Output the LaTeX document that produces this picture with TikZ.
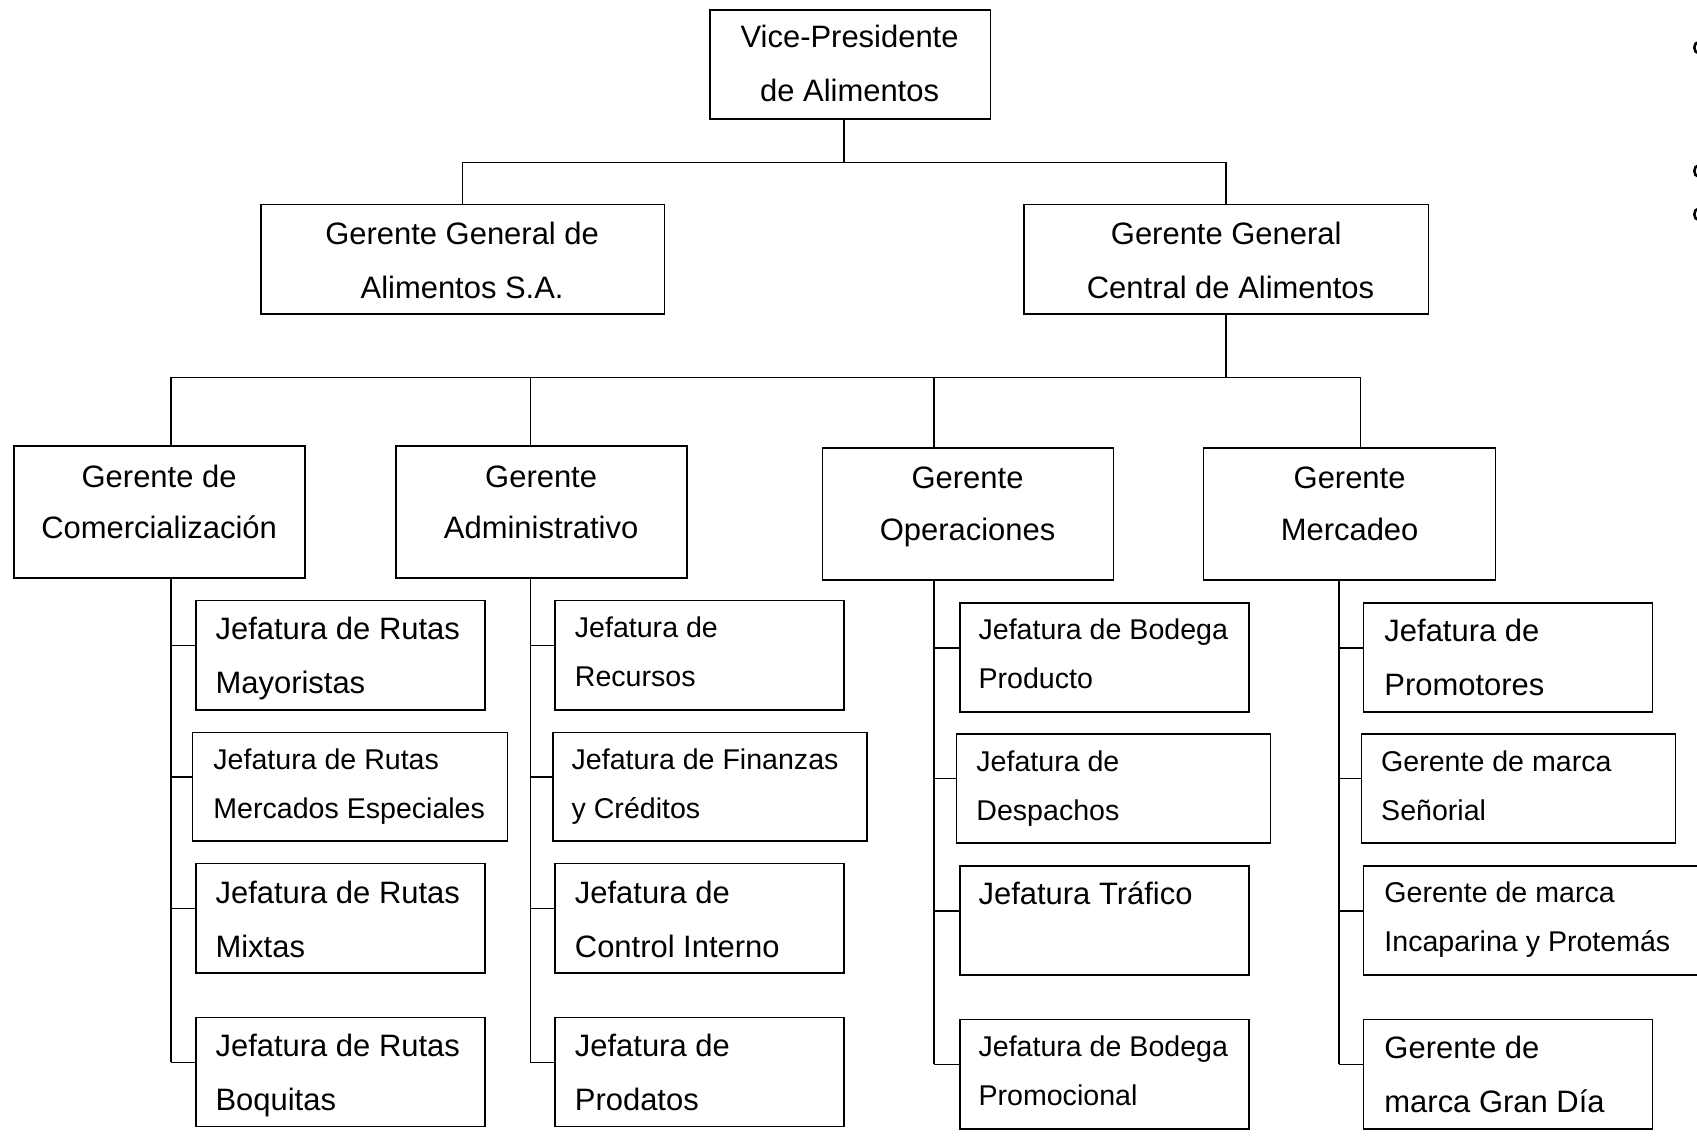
\documentclass[tikz,border=0pt]{standalone}
\usepackage{fontspec}
\setmainfont{Liberation Sans}
\usetikzlibrary{fit}
\tikzset{
  orgbox/.style={draw,line width=1.4pt,inner sep=0pt,fit={#1}},
  bigtxt/.style={font=\fontsize{28.6}{34}\selectfont,inner sep=0pt,anchor=base west},
  smalltxt/.style={font=\fontsize{26.4}{32}\selectfont,inner sep=0pt,anchor=base west},
  ctxt/.style={font=\fontsize{28.6}{34}\selectfont,inner sep=0pt,anchor=base},
  edgemark/.style={line width=2.4pt},
  link/.style={line width=1.4pt},
}
\begin{document}
\begin{tikzpicture}[x=1pt,y=-1pt]
\path[use as bounding box] (0,0) rectangle (1568,1050);
\clip (0,0) rectangle (1568,1050);

% top levels
\node[orgbox={(656,9)(915,110)}] (vp) {};
\node[ctxt] (vp1) at (785,44) {Vice-Presidente};
\node[ctxt] (vp2) at (785,94) {de Alimentos};

\node[orgbox={(241,189)(614,290)}] (gsa) {};
\node[ctxt] (gsa1) at (427,226) {Gerente General de};
\node[ctxt] (gsa2) at (427,276) {Alimentos S.A.};

\node[orgbox={(946,189)(1320,290)}] (gc) {};
\node[ctxt] (gc1) at (1133,226) {Gerente General};
\node[ctxt] (gc2) at (1137,276) {Central de Alimentos};

% level 3
\node[orgbox={(13,412)(282,534)}] (gcom) {};
\node[ctxt] (gcom1) at (147,450) {Gerente de};
\node[ctxt] (gcom2) at (147,498) {Comercialización};

\node[orgbox={(366,412)(635,534)}] (gadm) {};
\node[ctxt] (gadm1) at (500,450) {Gerente};
\node[ctxt] (gadm2) at (500,498) {Administrativo};

\node[orgbox={(760,414)(1029,536)}] (gope) {};
\node[ctxt] (gope1) at (894,451) {Gerente};
\node[ctxt] (gope2) at (894,499) {Operaciones};

\node[orgbox={(1112,414)(1382,536)}] (gmer) {};
\node[ctxt] (gmer1) at (1247,451) {Gerente};
\node[ctxt] (gmer2) at (1247,499) {Mercadeo};

% column 1
\node[orgbox={(181,555)(448,656)}] (c1a) {};
\node[bigtxt] (c1a1) at (199,591) {Jefatura de Rutas};
\node[bigtxt] (c1a2) at (199,641) {Mayoristas};
\node[orgbox={(178,677)(469,777)}] (c1b) {};
\node[smalltxt] (c1b1) at (197,711) {Jefatura de Rutas};
\node[smalltxt] (c1b2) at (197,756) {Mercados Especiales};
\node[orgbox={(181,798)(448,899)}] (c1c) {};
\node[bigtxt] (c1c1) at (199,835) {Jefatura de Rutas};
\node[bigtxt] (c1c2) at (199,885) {Mixtas};
\node[orgbox={(181,940)(448,1041)}] (c1d) {};
\node[bigtxt] (c1d1) at (199,976) {Jefatura de Rutas};
\node[bigtxt] (c1d2) at (199,1026) {Boquitas};

% column 2
\node[orgbox={(513,555)(780,656)}] (c2a) {};
\node[smalltxt] (c2a1) at (531,589) {Jefatura de};
\node[smalltxt] (c2a2) at (531,634) {Recursos};
\node[orgbox={(511,677)(801,777)}] (c2b) {};
\node[smalltxt] (c2b1) at (528,711) {Jefatura de Finanzas};
\node[smalltxt] (c2b2) at (528,756) {y Créditos};
\node[orgbox={(513,798)(780,899)}] (c2c) {};
\node[bigtxt] (c2c1) at (531,835) {Jefatura de};
\node[bigtxt] (c2c2) at (531,885) {Control Interno};
\node[orgbox={(513,940)(780,1041)}] (c2d) {};
\node[bigtxt] (c2d1) at (531,976) {Jefatura de};
\node[bigtxt] (c2d2) at (531,1026) {Prodatos};

% column 3
\node[orgbox={(887,557)(1154,658)}] (c3a) {};
\node[smalltxt] (c3a1) at (904,591) {Jefatura de Bodega};
\node[smalltxt] (c3a2) at (904,636) {Producto};
\node[orgbox={(884,678)(1174,779)}] (c3b) {};
\node[smalltxt] (c3b1) at (902,713) {Jefatura de};
\node[smalltxt] (c3b2) at (902,758) {Despachos};
\node[orgbox={(887,800)(1154,901)}] (c3c) {};
\node[bigtxt] (c3c1) at (904,836) {Jefatura Tráfico};
\node[orgbox={(887,942)(1154,1043)}] (c3d) {};
\node[smalltxt] (c3d1) at (904,976) {Jefatura de Bodega};
\node[smalltxt] (c3d2) at (904,1021) {Promocional};

% column 4
\node[orgbox={(1260,557)(1527,658)}] (c4a) {};
\node[bigtxt] (c4a1) at (1279,593) {Jefatura de};
\node[bigtxt] (c4a2) at (1279,643) {Promotores};
\node[orgbox={(1258,678)(1548,779)}] (c4b) {};
\node[smalltxt] (c4b1) at (1276,713) {Gerente de marca};
\node[smalltxt] (c4b2) at (1276,758) {Señorial};
\node[orgbox={(1260,800)(1580,901)}] (c4c) {};
\node[smalltxt] (c4c1) at (1279,834) {Gerente de marca};
\node[smalltxt] (c4c2) at (1279,879) {Incaparina y Protemás};
\node[orgbox={(1260,942)(1527,1043)}] (c4d) {};
\node[bigtxt] (c4d1) at (1279,978) {Gerente de};
\node[bigtxt] (c4d2) at (1279,1028) {marca Gran Día};

% small curved marks cut by the right edge
\draw[edgemark] (1569,39) arc[start angle=90,end angle=270,x radius=3.5pt,y radius=5pt];
\draw[edgemark] (1569,153) arc[start angle=90,end angle=270,x radius=3.5pt,y radius=5pt];
\draw[edgemark] (1569,193) arc[start angle=90,end angle=270,x radius=3.5pt,y radius=5pt];

% connectors top
\coordinate (j1) at (780,150);
\draw[link] ([xshift=-5.5pt]vp.south) -- (j1);
\draw[link] (gsa.north) |- (j1) -| (gc.north);
\coordinate (j2) at (1133,349);
\draw[link] (gc.south) -- (j2);
\coordinate (h1) at (158,349);
\coordinate (h2) at (490,349);
\coordinate (h3) at (863,349);
\coordinate (h4) at (1257,349);
\draw[link] (h1 |- gcom.north) -- (h1) -- (h4) -- (h4 |- gmer.north);
\draw[link] (h2) -- (h2 |- gadm.north);
\draw[link] (h3) -- (h3 |- gope.north);

% branch points on the left sides of the boxes
\foreach \col in {c1,c2,c3,c4}{
  \foreach \k in {a,b,c,d}{
    \coordinate (\col\k-in) at ([yshift=9pt]\col\k.west);
  }
}
% spines
\coordinate (s1) at (158,0);
\coordinate (s2) at (490,0);
\coordinate (s3) at (863,0);
\coordinate (s4) at (1237,0);
\foreach \s/\top/\col in {s1/gcom/c1, s2/gadm/c2, s3/gope/c3, s4/gmer/c4}{
  \draw[link] (\s |- \top.south) -- (\s |- \col d-in);
  \foreach \k in {a,b,c,d}{
    \draw[link] (\s |- \col\k-in) -- (\col\k-in);
  }
}
\end{tikzpicture}
\end{document}
